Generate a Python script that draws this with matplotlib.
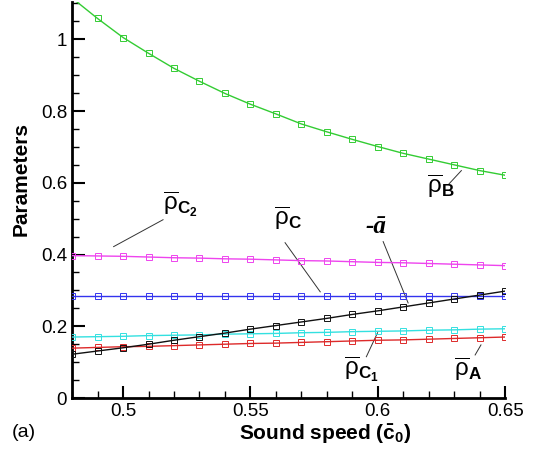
import numpy as np
import matplotlib
matplotlib.use("Agg")
import matplotlib.pyplot as plt
import matplotlib.ticker as ticker

# ---------------------------------------------------------------------------
# Data
# ---------------------------------------------------------------------------
c0 = [0.48, 0.49, 0.50, 0.51, 0.52, 0.53, 0.54, 0.55, 0.56,
      0.57, 0.58, 0.59, 0.60, 0.61, 0.62, 0.63, 0.64, 0.65]

rho_B = [1.115, 1.058, 1.005, 0.961, 0.919, 0.883, 0.849, 0.819, 0.792,
         0.764, 0.742, 0.721, 0.701, 0.682, 0.666, 0.650, 0.634, 0.621]
rho_C2 = [0.397, 0.396, 0.395, 0.393, 0.391, 0.390, 0.388, 0.387, 0.385,
          0.383, 0.382, 0.380, 0.378, 0.377, 0.375, 0.373, 0.371, 0.369]
rho_C = [0.285, 0.285, 0.285, 0.285, 0.285, 0.285, 0.285, 0.285, 0.285,
         0.285, 0.285, 0.285, 0.285, 0.285, 0.285, 0.285, 0.285, 0.285]
rho_C1 = [0.170, 0.171, 0.172, 0.174, 0.175, 0.176, 0.178, 0.179, 0.180,
          0.182, 0.183, 0.185, 0.186, 0.187, 0.189, 0.190, 0.192, 0.193]
rho_A = [0.139, 0.141, 0.143, 0.144, 0.146, 0.148, 0.150, 0.152, 0.153,
         0.155, 0.157, 0.159, 0.161, 0.162, 0.164, 0.166, 0.168, 0.170]
minus_a = [0.122, 0.131, 0.140, 0.150, 0.161, 0.171, 0.181, 0.192, 0.202,
           0.212, 0.222, 0.233, 0.243, 0.254, 0.265, 0.276, 0.287, 0.298]

series = [
    (rho_B,   "#33cc33"),
    (rho_C2,  "#ee44ee"),
    (rho_C,   "#3333ee"),
    (rho_C1,  "#33e0e0"),
    (rho_A,   "#dd2a2a"),
    (minus_a, "#111111"),
]

# labels: text, text position, leader line (start, end)
labels = [
    (r"$\overline{\mathrm{\rho}}_{\mathbf{C_2}}$", (0.5224, 0.540), (0.5157, 0.497), (0.4963, 0.422)),
    (r"$\overline{\mathrm{\rho}}_{\mathbf{C}}$",   (0.5648, 0.500), (0.5636, 0.433), (0.5774, 0.296)),
    (r"$\overline{\mathrm{\rho}}_{\mathbf{B}}$",   (0.6247, 0.590), (0.6328, 0.634), (0.6277, 0.595)),
    (r"$\overline{\mathrm{\rho}}_{\mathbf{C_1}}$", (0.5935, 0.080), (0.5955, 0.115), (0.5999, 0.182)),
    (r"$\overline{\mathrm{\rho}}_{\mathbf{A}}$",   (0.6354, 0.080), (0.6382, 0.120), (0.6405, 0.148)),
]
a_label = ("-ā", (0.5994, 0.478), (0.6021, 0.436), (0.6119, 0.265))

# ---------------------------------------------------------------------------
# Style
# ---------------------------------------------------------------------------
plt.rcParams.update({
    "font.family": ["Liberation Sans", "DejaVu Sans"],
    "mathtext.fontset": "custom",
    "mathtext.rm": "Liberation Sans",
    "mathtext.it": "Liberation Sans:italic",
    "mathtext.bf": "Liberation Sans:bold",
    "font.size": 12,
})

fig = plt.figure(figsize=(5.38, 4.53), dpi=100)
ax = fig.add_axes([0.134, 0.1214, 0.805, 0.875])

for vals, col in series:
    ax.plot(c0, vals, color=col, lw=1.0, marker="s", ms=4.2,
            mfc="none", mec=col, mew=0.7, clip_on=True, zorder=3)

for txt, tpos, p0, p1 in labels:
    ax.text(tpos[0], tpos[1], txt, fontsize=17.5, ha="center", va="center")
    ax.plot([p0[0], p1[0]], [p0[1], p1[1]], color="#333333", lw=0.7)

txt, tpos, p0, p1 = a_label
ax.text(tpos[0], tpos[1], txt, fontsize=18, ha="center", va="center",
        family="Liberation Serif", weight="bold", style="italic")
ax.plot([p0[0], p1[0]], [p0[1], p1[1]], color="#333333", lw=0.7)

ax.set_xlim(0.48, 0.65)
ax.set_ylim(0, 1.105)
ax.set_xticks([0.5, 0.55, 0.6, 0.65])
ax.set_yticks([0, 0.2, 0.4, 0.6, 0.8, 1.0])
ax.xaxis.set_minor_locator(ticker.MultipleLocator(0.01))
ax.yaxis.set_minor_locator(ticker.MultipleLocator(0.05))
ax.xaxis.set_major_formatter(ticker.FormatStrFormatter("%g"))
ax.yaxis.set_major_formatter(ticker.FormatStrFormatter("%g"))
ax.tick_params(which="both", direction="in", width=1.5, labelsize=13.5)
ax.tick_params(which="major", length=9)
ax.tick_params(which="minor", length=5, width=1.0)
ax.spines["top"].set_visible(False)
ax.spines["right"].set_visible(False)
for s in ("left", "bottom"):
    ax.spines[s].set_linewidth(2.0)

ax.set_xlabel(r"Sound speed ($\mathbf{\bar{c}_0}$)", fontsize=15, weight="bold")
ax.set_ylabel("Parameters", fontsize=15, weight="bold")
ax.xaxis.set_label_coords(0.584, -0.062)
ax.yaxis.set_label_coords(-0.095, 0.553)
fig.text(0.022, 0.035, "(a)", fontsize=14)

fig.savefig("out.png", dpi=100)
